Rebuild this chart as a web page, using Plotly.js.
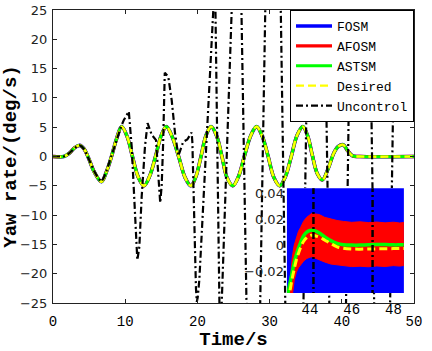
<!DOCTYPE html>
<html>
<head>
<meta charset="utf-8">
<script src="https://cdn.plot.ly/plotly-3.0.1.min.js"></script>
<style>
  html, body { margin: 0; padding: 0; background: #fff; }
  #chart { width: 432px; height: 351px; }
</style>
</head>
<body>
<div id="chart"></div>
<script>
// main view: the controlled responses sit on top of each other at this scale
var time = [0, 1.5, 2.3, 3.0, 3.7, 4.3, 4.9, 5.7, 6.7, 7.4, 8.1, 8.8, 9.5, 10.3, 11.0, 11.8, 12.6, 13.4,
    14.2, 15.0, 15.7, 16.5, 17.4, 18.3, 19.1, 19.8, 20.5, 21.2, 21.9, 22.7, 23.4, 24.1, 24.9, 25.7,
    26.5, 27.4, 28.2, 29.0, 29.8, 30.6, 31.4, 32.2, 33.0, 33.8, 34.6, 35.3, 35.9, 36.6, 37.3, 38.1,
    38.9, 39.5, 40.2, 40.8, 41.5, 42.5, 50];
var desired = [0, 0, 0.6, 1.5, 1.9, 1.3, -0.2, -2.6, -4.3, -2.6, 0, 3.0, 5.1, 3.3, 0, -3.5, -5.0, -3.3,
    0, 3.6, 5.1, 3.4, 0, -3.6, -5.0, -3.4, 0, 3.6, 5.1, 3.4, 0, -3.6, -5.0, -3.4,
    0, 3.6, 5.1, 3.4, 0, -3.6, -5.0, -3.4, 0, 3.6, 5.1, 3.4, 0.3, -2.9, -4.0, -2.1,
    0.6, 1.7, 2.0, 1.0, 0.1, 0, 0];

var uncontrolTime = [0, 1.5, 2.0, 2.5, 3.0, 3.4, 3.7, 4.0, 4.4, 4.8, 5.2, 5.7, 6.2, 6.7, 7.0, 7.4, 7.8,
    8.2, 8.6, 9.0, 9.4, 9.8, 10.2, 10.5, 10.9, 11.2, 11.5, 11.68, 11.96, 12.28, 12.74, 13.1, 13.67,
    14.27, 14.55, 14.85, 15.05, 15.25, 15.48, 15.97, 16.44, 16.9, 17.36, 17.7, 18.03, 18.6, 19.2,
    19.3, 19.55, 19.8, 19.92, 20.05, 20.27, 21.65, 22.15, 22.33, 22.5, 23.05, 23.2, 23.37, 24.75,
    25.4, 26.1, 26.8, 27.75, 28.7, 29.4, 30.5, 31.55, 32.17, 33.4, 34.69, 35.31, 36.5, 37.65,
    38.27, 39.4, 40.53, 41.15, 42.5, 43.86, 44.48, 45.6, 46.69, 47.31, 50];
var uncontrol = [0, 0, 0.3, 0.9, 1.5, 1.85, 1.9, 1.7, 1.1, 0.1, -1.1, -2.5, -3.6, -4.3, -3.7, -2.5, -1.0,
    0.5, 2.2, 3.7, 5.0, 6.2, 7.1, 7.7, 1.7, -5.7, -15.4, -17.7, -15.4, -6.9, 1.7, 5.7, 3.7,
    2.8, -2.5, -7.9, -5, 2, 14.3, 13.6, 9.6, 4.0, 0.1, 1.5, 2.5, 2.9, 4.1,
    2.5, -12, -22.5, -24.8, -24, -21, 13, 25, 28, 25, -25, -27.5, -25, 25,
    50, 25, -25, -65, -25, 25, 90, 25, -25, -100, -25, 25, 115, 25,
    -25, -130, -25, 25, 145, 25, -25, -155, -25, 25, 175];

// inset (zoom on the end of the run)
var insetTime = [42.95, 43.05, 43.15, 43.25, 43.35, 43.45, 43.55, 43.7, 43.85, 44.0, 44.1, 44.25, 44.45,
    44.7, 45.0, 45.3, 45.6, 46.0, 46.4, 46.8, 47.2, 47.6, 48.0, 48.3, 48.5];
var astsmInset = [-0.037, -0.029, -0.021, -0.0135, -0.0075, -0.0025, 0.0018, 0.0072, 0.0100, 0.0113, 0.0115,
    0.0110, 0.0093, 0.0065, 0.0035, 0.0013, 0.0003, 0, 0, 0.0003, 0.0004, 0.0004, 0.0002, 0.0002, 0.0002];
var desiredInset = [-0.044, -0.035, -0.026, -0.0185, -0.0115, -0.0065, -0.002, 0.003, 0.0058, 0.0074, 0.0077,
    0.0073, 0.0062, 0.0040, 0.0012, -0.0013, -0.0024, -0.0030, -0.0031, -0.0030, -0.0029, -0.0028,
    -0.0027, -0.0026, -0.0026];
var afosmHi = [-0.050, -0.030, -0.010, 0.000, 0.006, 0.0105, 0.0135, 0.0185, 0.0215, 0.0238, 0.0246, 0.0241,
    0.0236, 0.0215, 0.0202, 0.0190, 0.0183, 0.0176, 0.0180, 0.0174, 0.0178, 0.0172, 0.0177, 0.0171, 0.0175];
var afosmLo = [-0.060, -0.060, -0.040, -0.027, -0.021, -0.0175, -0.0150, -0.0123, -0.0103, -0.0093, -0.0090,
    -0.0095, -0.0112, -0.0130, -0.0146, -0.0155, -0.0160, -0.0166, -0.0163, -0.0167, -0.0161, -0.0165,
    -0.0158, -0.0162, -0.0157];
// FOSM chatter is wider than the inset window
var fosmBandTime = [42.5, 49];
var fosmBandHi = [0.06, 0.06];
var fosmBandLo = [-0.06, -0.06];

var insetXTicks = [44, 46, 48];
var insetYTicks = [-0.02, 0, 0.02, 0.04];

// closed outlines for the two chattering bands
function band(t, hi, lo) {
    return {
        x: t.concat(t.slice().reverse()),
        y: hi.concat(lo.slice().reverse())
    };
}
var fosmBand = band(fosmBandTime, fosmBandHi, fosmBandLo);
var afosmBand = band(insetTime, afosmHi, afosmLo);

var dashDot = '7px,3px,2px,3px';
var yellowDash = '8px,4px';
var mono = 'Liberation Mono';
var sans = 'DejaVu Sans';

var traces = [
    // inset first (its subplot is still drawn above the main one)
    {x: fosmBand.x, y: fosmBand.y, xaxis: 'x2', yaxis: 'y2', mode: 'lines', showlegend: false,
        fill: 'toself', fillcolor: '#0000ff', line: {color: '#0000ff', width: 0}},
    {x: afosmBand.x, y: afosmBand.y, xaxis: 'x2', yaxis: 'y2', mode: 'lines', showlegend: false,
        fill: 'toself', fillcolor: '#ff0000', line: {color: '#ff0000', width: 1}},
    {x: insetTime, y: astsmInset, xaxis: 'x2', yaxis: 'y2', mode: 'lines', showlegend: false,
        line: {color: '#00ff00', width: 3.5, shape: 'spline'}},
    {x: insetTime, y: desiredInset, xaxis: 'x2', yaxis: 'y2', mode: 'lines', showlegend: false,
        line: {color: '#ffff00', width: 3, dash: yellowDash, shape: 'spline'}},
    {x: uncontrolTime, y: uncontrol, xaxis: 'x2', yaxis: 'y2', mode: 'lines', showlegend: false,
        line: {color: '#000', width: 2.5, dash: dashDot}},

    {x: time, y: desired, mode: 'lines', name: 'FOSM', line: {color: '#0000ff', width: 3.6, shape: 'spline'}},
    {x: time, y: desired, mode: 'lines', name: 'AFOSM', line: {color: '#ff0000', width: 3.3, shape: 'spline'}},
    {x: time, y: desired, mode: 'lines', name: 'ASTSM', line: {color: '#00ff00', width: 3, shape: 'spline'}},
    {x: time, y: desired, mode: 'lines', name: 'Desired', line: {color: '#ffff00', width: 2.4, dash: yellowDash, shape: 'spline'}},
    {x: uncontrolTime, y: uncontrol, mode: 'lines', name: 'Uncontrol', line: {color: '#000', width: 2.2, dash: dashDot}}
];

var layout = {
    width: 432,
    height: 351,
    margin: {l: 53, r: 18, t: 10, b: 48},
    paper_bgcolor: '#fff',
    plot_bgcolor: '#fff',
    showlegend: true,
    legend: {
        x: 1, xanchor: 'right', y: 1, yanchor: 'top',
        traceorder: 'normal', itemwidth: 36,
        bgcolor: '#fff', bordercolor: '#000', borderwidth: 1,
        font: {family: mono, size: 13, color: '#000'}
    },
    xaxis: {
        domain: [0, 1], range: [0, 50], dtick: 10,
        ticks: 'inside', ticklen: 4, tickcolor: '#222',
        showline: true, linecolor: '#222', linewidth: 1, mirror: 'ticks',
        showgrid: false, zeroline: false,
        ticklabelstandoff: 5,
        tickfont: {family: mono, size: 14, color: '#000'},
        title: {text: 'Time/s', standoff: 4, font: {family: mono, size: 19, weight: 'bold', color: '#000'}}
    },
    yaxis: {
        domain: [0, 1], range: [-25, 25], dtick: 5,
        ticks: 'inside', ticklen: 4, tickcolor: '#222',
        showline: true, linecolor: '#222', linewidth: 1, mirror: 'ticks',
        showgrid: false, zeroline: false,
        ticklabelstandoff: 2,
        tickfont: {family: sans, size: 13, color: '#222'},
        title: {text: 'Yaw rate/(deg/s)', standoff: 6, font: {family: mono, size: 19, weight: 'bold', color: '#000'}}
    },
    xaxis2: {
        anchor: 'y2', domain: [0.648, 0.972], range: [42.9, 48.5],
        tickvals: insetXTicks, ticks: '', showline: false, showgrid: false, zeroline: false,
        ticklabelstandoff: 6,
        tickfont: {family: mono, size: 14, color: '#000'}
    },
    yaxis2: {
        anchor: 'x2', domain: [0.034, 0.392], range: [-0.037, 0.044],
        tickvals: insetYTicks, ticks: '', showline: false, showgrid: false, zeroline: false,
        ticklabelstandoff: 2,
        tickfont: {family: sans, size: 13, color: '#222'}
    }
};

Plotly.newPlot('chart', traces, layout, {staticPlot: true, displayModeBar: false});
</script>
</body>
</html>
